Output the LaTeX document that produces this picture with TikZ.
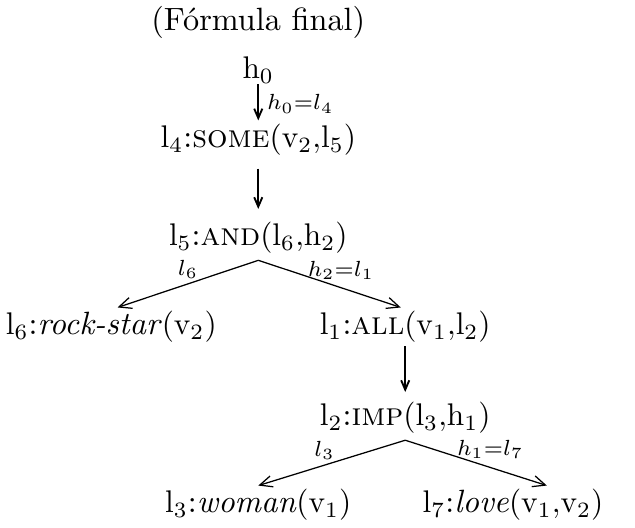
\documentclass[tikz,border=0pt]{standalone}
\usepackage{amsmath,amssymb}
\usepackage{tikz}
\usetikzlibrary{arrows.meta,positioning,calc}
\tikzset{
  term/.style  ={inner sep=1pt,font=\fontsize{10.3}{12}\selectfont},
  lbl/.style   ={font=\fontsize{6.8}{8}\selectfont,inner sep=1.5pt},
  link/.style  ={-{Straight Barb[length=3pt,width=2.6pt]},line width=0.6pt},
  branch/.style={-{Straight Barb[length=4pt,width=3.6pt]},line width=0.4pt},
}

\begin{document}
\begin{tikzpicture}
  \useasboundingbox (0,0) rectangle (7.13,-5.92);
  \node[term] (title) at (2.90,-0.25){(Fórmula final)};
  \node[term] (h0)    at (2.90,-0.79){$\mathrm{h}_0$};
  \node[term] (some)  at (2.90,-1.57){$\mathrm{l}_4$:\textsc{some}$(\mathrm{v}_2{,}\mathrm{l}_5)$};
  \node[term] (and)   at (2.90,-2.67){$\mathrm{l}_5$:\textsc{and}$(\mathrm{l}_6{,}\mathrm{h}_2)$};
  \node[term] (rock)  at (1.25,-3.67){$\mathrm{l}_6$:\textit{rock-star}$(\mathrm{v}_2)$};
  \node[term] (all)   at (4.55,-3.67){$\mathrm{l}_1$:\textsc{all}$(\mathrm{v}_1{,}\mathrm{l}_2)$};
  \node[term] (imp)   at (4.55,-4.69){$\mathrm{l}_2$:\textsc{imp}$(\mathrm{l}_3{,}\mathrm{h}_1)$};
  \node[term] (woman) at (2.90,-5.67){$\mathrm{l}_3$:\textit{woman}$(\mathrm{v}_1)$};
  \node[term] (love)  at (5.76,-5.67){$\mathrm{l}_7$:\textit{love}$(\mathrm{v}_1{,}\mathrm{v}_2)$};
  \draw[link,shorten <=-1pt] (h0) -- node[lbl,right,xshift=1pt]{$h_0{=}l_4$} (some);
  \draw[link,shorten <=3pt,shorten >=3pt] (some) -- (and);
  \draw[branch] ([yshift=-1pt]and.south) -- node[lbl,pos=0.5,above]{$l_6$} ([xshift=0.07cm]rock.north);
  \draw[branch] ([yshift=-1pt]and.south) -- node[lbl,pos=0.58,above,yshift=1pt]{$h_2{=}l_1$} ([xshift=-0.05cm]all.north);
  \draw[link,shorten >=2pt] (all) -- (imp);
  \draw[branch] ([yshift=-1pt]imp.south) -- node[lbl,pos=0.55,above]{$l_3$} (woman.north);
  \draw[branch] ([yshift=-1pt]imp.south) -- node[lbl,pos=0.6,above,yshift=1pt]{$h_1{=}l_7$} ([xshift=0.38cm]love.north);
\end{tikzpicture}
\end{document}
